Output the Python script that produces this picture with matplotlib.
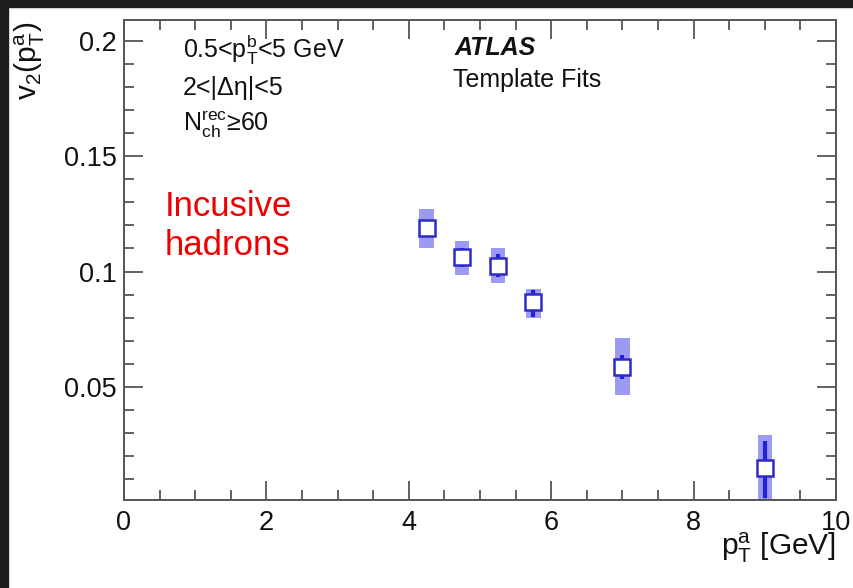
import matplotlib
matplotlib.use("Agg")
import matplotlib.pyplot as plt
from matplotlib.patches import Rectangle
from matplotlib.ticker import MultipleLocator

plt.rcParams['font.family'] = ['Liberation Sans', 'DejaVu Sans']
plt.rcParams['mathtext.fontset'] = 'custom'
plt.rcParams['mathtext.rm'] = 'Liberation Sans'
plt.rcParams['mathtext.it'] = 'Liberation Sans:italic'
plt.rcParams['mathtext.bf'] = 'Liberation Sans:bold'

# data
pt_a = [4.25, 4.75, 5.25, 5.75, 7.0, 9.0]
v2 = [0.1187, 0.1061, 0.1026, 0.0866, 0.0588, 0.0150]
stat_lo = [0.1160, 0.1020, 0.0978, 0.0805, 0.0536, 0.0020]
stat_hi = [0.1215, 0.1100, 0.1074, 0.0922, 0.0640, 0.0267]
sys_lo = [0.1100, 0.0983, 0.0952, 0.0800, 0.0467, 0.0010]
sys_hi = [0.1273, 0.1134, 0.1100, 0.0926, 0.0714, 0.0293]
xticks = [0, 2, 4, 6, 8, 10]
yticks = [0.05, 0.1, 0.15, 0.2]
ytick_labels = ['0.05', '0.1', '0.15', '0.2']

fig = plt.figure(figsize=(8.54, 5.88), dpi=100)
fig.patch.set_facecolor('white')
# dark frame bands
fig.patches.append(Rectangle((0, 1 - 7 / 588), 1, 7 / 588, transform=fig.transFigure,
                             color='#1e1e1e', zorder=0))
fig.patches.append(Rectangle((0, 0), 8 / 854, 1, transform=fig.transFigure,
                             color='#1e1e1e', zorder=0))

ax = fig.add_axes([124 / 854, 1 - 500 / 588, (836 - 124) / 854, (500 - 20) / 588])

sys_h = [h - l for h, l in zip(sys_hi, sys_lo)]
ax.bar(pt_a, sys_h, bottom=sys_lo, width=0.2, color='#8a8af2', alpha=0.85,
       linewidth=0, zorder=2)
yerr = [[v - l for v, l in zip(v2, stat_lo)], [h - v for v, h in zip(v2, stat_hi)]]
ax.errorbar(pt_a, v2, yerr=yerr, fmt='s', ms=11.5, mfc='white', mec='#2c2cc4',
            mew=1.8, ecolor='#2222dd', elinewidth=3, capsize=0, zorder=3)

ax.set_xlim(0, 10)
ax.set_ylim(0.001, 0.209)
ax.set_xticks(xticks)
ax.set_yticks(yticks)
ax.set_yticklabels(ytick_labels)
ax.xaxis.set_minor_locator(MultipleLocator(0.5))
ax.yaxis.set_minor_locator(MultipleLocator(0.01))
ax.tick_params(which='both', direction='in', top=True, right=True, color='#555555',
               width=1.3)
ax.tick_params(which='major', length=14, labelsize=19.5, labelcolor='#111111')
ax.tick_params(which='minor', length=7)
ax.tick_params(axis='x', which='major', pad=7)
ax.tick_params(axis='y', which='major', pad=5)
for s in ax.spines.values():
    s.set_color('#555555')
    s.set_linewidth(1.4)

# labels
fig.text(30 / 854, 1 - 22 / 588, r'v$_2$(p$_{\mathrm{T}}^{\mathrm{a}}$)', rotation=90,
         ha='center', va='top', fontsize=21.5, color='#111111')
fig.text(836 / 854, 1 - 548 / 588, r'p$_{\mathrm{T}}^{\mathrm{a}}$ [GeV]', ha='right',
         va='center', fontsize=21.5, color='#111111')

# annotations
tx = ax.transAxes
ax.text((183 - 124) / 712, 1 - (50 - 20) / 480,
        r'0.5<p$_{\mathrm{T}}^{\mathrm{b}}$<5 GeV', transform=tx, ha='left', va='center',
        fontsize=18, color='#111111')
ax.text((183 - 124) / 712, 1 - (88 - 20) / 480, '2<|Δη|<5', transform=tx, ha='left',
        va='center', fontsize=18, color='#111111')
ax.text((183 - 124) / 712, 1 - (125 - 20) / 480, r'N$_{\mathrm{ch}}^{\mathrm{rec}}$≥60',
        transform=tx, ha='left', va='center', fontsize=18, color='#111111')
ax.text((455 - 124) / 712, 1 - (48 - 20) / 480, 'ATLAS', transform=tx, ha='left',
        va='center', fontsize=18, fontweight='bold', fontstyle='italic', color='#111111')
ax.text((453 - 124) / 712, 1 - (80 - 20) / 480, 'Template Fits', transform=tx, ha='left',
        va='center', fontsize=18, color='#111111')
ax.text((165 - 124) / 712, 1 - (226 - 20) / 480, 'Incusive\nhadrons', transform=tx,
        ha='left', va='center', fontsize=25, color='#ee0000', linespacing=1.2)

fig.savefig('out.png', dpi=100)
